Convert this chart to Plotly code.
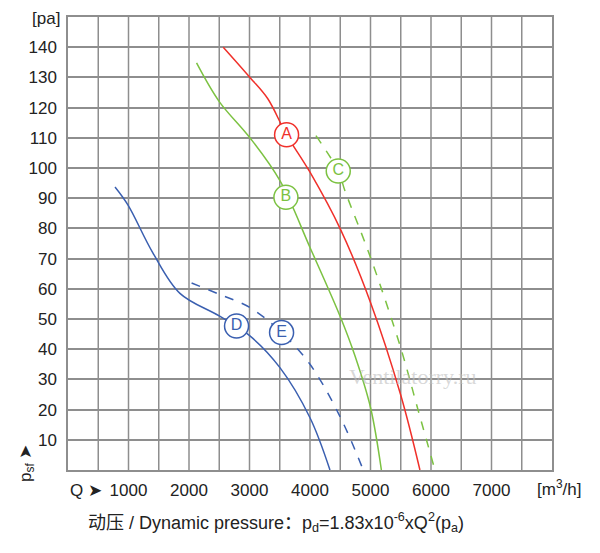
import plotly.graph_objects as go

# curve data (Q in m3/h, p in Pa)
a_q = [2566, 3007, 3300, 3613, 4000, 4506, 5000, 5497, 5817]
a_p = [140, 130, 123, 111, 98.6, 79.6, 55.5, 25, 0]
b_q = [2125, 2500, 3007, 3503, 4000, 4506, 4743, 5000, 5180]
b_p = [134.8, 122, 110, 95.8, 73.7, 50.5, 37.8, 20.7, 0]
c_q = [4098, 4467, 4577, 5000, 5497, 5790, 6065]
c_p = [110.7, 99, 92.5, 70.4, 40.6, 19.6, 0]
d_q = [777, 992, 1400, 1850, 2500, 3007, 3503, 4000, 4330]
d_p = [93.7, 87.7, 72, 58.5, 51, 44.4, 33.9, 17.3, 0]
e_q = [2043, 2500, 3007, 3530, 4000, 4506, 4880]
e_p = [61.9, 58.2, 53.8, 45.5, 35, 17.3, 0]

labels = ["A", "B", "C", "D", "E"]
label_q = [3613, 3602, 4467, 2786, 3530]
label_p = [111, 90.3, 99, 47.7, 45.5]
colors = ["#f0302a", "#7cc242", "#7cc242", "#3a5fb0", "#3a5fb0"]

x_ticks = [1000, 2000, 3000, 4000, 5000, 6000, 7000]
y_ticks = list(range(10, 150, 10))

fig = go.Figure()
curves = [(a_q, a_p, "solid"), (b_q, b_p, "solid"), (c_q, c_p, "dash"),
          (d_q, d_p, "solid"), (e_q, e_p, "dash")]
for (q, p, dash), col in zip(curves, colors):
    fig.add_scatter(x=q, y=p, mode="lines",
                    line=dict(color=col, width=1.5, dash=dash, shape="spline", smoothing=1.0),
                    showlegend=False, hoverinfo="skip")

for lab, q, p, col in zip(labels, label_q, label_p, colors):
    fig.add_scatter(x=[q], y=[p], mode="markers+text", text=[lab], textposition="middle center",
                    textfont=dict(color=col, size=16, family="Liberation Sans"),
                    marker=dict(size=24, color="white", line=dict(color=col, width=1.5)),
                    showlegend=False, hoverinfo="skip")

font = dict(family="Liberation Sans, Arial, sans-serif", size=17, color="#222")
grid = "#8e8e8e"
fig.update_layout(
    width=600, height=553, plot_bgcolor="white", paper_bgcolor="white",
    margin=dict(l=60, r=56, t=9, b=91), font=font,
    xaxis=dict(range=[0, 8000], showgrid=False, automargin=False,
               tickvals=x_ticks, ticks="", showline=True, linecolor=grid, linewidth=1.5,
               mirror=True, zeroline=False, ticklabelstandoff=4),
    yaxis=dict(range=[0, 150], showgrid=True, gridcolor=grid, gridwidth=1.5, automargin=False,
               tickvals=y_ticks, ticks="", showline=True, linecolor=grid, linewidth=1.5, mirror=True,
               zeroline=False, ticklabelstandoff=6),
)
for v in range(500, 8000, 500):
    fig.add_vline(x=v, line=dict(color=grid, width=1.5), layer="below")

fig.add_annotation(text="[pa]", xref="paper", yref="y", x=-0.012, y=150, xanchor="right",
                   yanchor="middle", yshift=-1, showarrow=False, font=font)
fig.add_annotation(text="Ventilatorry.ru", x=5700, y=31, showarrow=False,
                   font=dict(size=22, color="rgba(190,190,190,0.6)", family="Liberation Serif"))
fig.add_annotation(text="Q ➤", xref="paper", yref="paper", x=0.0, y=-0.02, xanchor="left",
                   yanchor="top", showarrow=False, font=font)
fig.add_annotation(text="[m<sup>3</sup>/h]", xref="paper", yref="paper", x=1.065, y=-0.01,
                   yanchor="top", showarrow=False, font=font)
fig.add_annotation(text="p<sub>sf</sub> ➤", xref="paper", yref="paper", x=-0.085, y=-0.03,
                   xanchor="center", yanchor="bottom", textangle=-90, showarrow=False, font=font)
fig.add_annotation(text="动压 / Dynamic pressure：p<sub>d</sub>=1.83x10<sup>-6</sup>xQ<sup>2</sup>(p<sub>a</sub>)",
                   xref="paper", yref="paper", x=0.43, y=-0.115, yanchor="middle", showarrow=False,
                   font=dict(family="Liberation Sans, Noto Sans CJK SC, sans-serif", size=18, color="#222"))

fig.write_html("out.html")
